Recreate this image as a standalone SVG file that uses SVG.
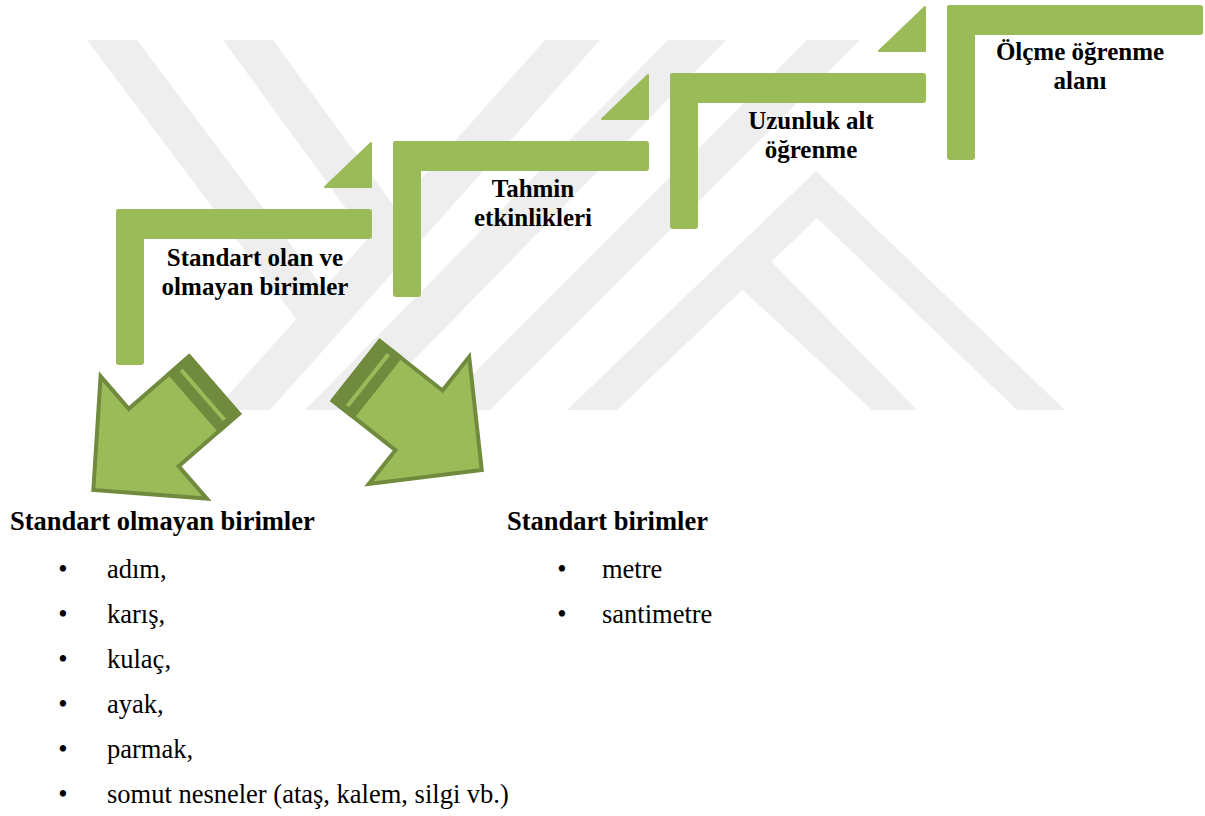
<svg xmlns="http://www.w3.org/2000/svg" width="1205" height="816" viewBox="0 0 1205 816">
<defs>
<style>
.wm{fill:#eeeeee}
.step{fill:#9bbb59}
.tri{fill:#9bbb59;stroke:#9bbb59;stroke-width:2;stroke-linejoin:round}
.lbl{font-family:"Liberation Serif","Times New Roman",serif;font-weight:bold;font-size:25px;fill:#000;text-anchor:middle}
.hd{font-family:"Liberation Serif","Times New Roman",serif;font-weight:bold;font-size:26.5px;fill:#000}
.tx{font-family:"Liberation Serif","Times New Roman",serif;font-size:26.5px;fill:#000}
.bul{font-family:"Liberation Serif","Times New Roman",serif;font-size:26.5px;fill:#000;text-anchor:middle}
.arr{fill:#9bbb59;stroke:#718b3e;stroke-width:4;stroke-linejoin:miter}
.band{fill:#718b3e}
.stripe{fill:#9bbb59}
</style>
<g id="blockArrow">
<path class="arr" d="M0,-38 L80,-38 L80,-81 L160,0 L80,81 L80,38 L0,38 Z"/>
<rect class="band" x="-2" y="-40" width="30" height="80"/>
<rect class="stripe" x="13" y="-33" width="4" height="66"/>
</g>
</defs>
<rect width="1205" height="816" fill="#ffffff"/>
<g id="watermark" class="wm">
<polygon points="87,40 137,40 336,305 309,336"/>
<polygon points="223,40 273,40 407,224 380,255"/>
<polygon points="545,40 600,40 270,410 215,410"/>
<polygon points="668,40 726,40 365,410 305,410"/>
<polygon points="807,40 860,40 490,410 437,410"/>
<polygon points="567,410 816,171 1065,410 1017,410 817,218 617,410"/>
<polygon points="760,250 917,410 872,410 731,279"/>
</g>
<g id="step1">
<rect class="step" x="116" y="209" width="256" height="30" rx="3"/>
<rect class="step" x="116" y="209" width="28" height="156" rx="3"/>
<polygon class="tri" points="325,187 371,143 371,187"/>
<text class="lbl"><tspan x="255" y="266">Standart olan ve</tspan><tspan x="255" y="295">olmayan birimler</tspan></text>
</g>
<g id="step2">
<rect class="step" x="393" y="141" width="256" height="30" rx="3"/>
<rect class="step" x="393" y="141" width="28" height="156" rx="3"/>
<polygon class="tri" points="602,119 648,75 648,119"/>
<text class="lbl"><tspan x="533" y="197">Tahmin</tspan><tspan x="533" y="226">etkinlikleri</tspan></text>
</g>
<g id="step3">
<rect class="step" x="670" y="73" width="256" height="30" rx="3"/>
<rect class="step" x="670" y="73" width="28" height="156" rx="3"/>
<polygon class="tri" points="879,51 925,7 925,51"/>
<text class="lbl"><tspan x="811" y="129">Uzunluk alt</tspan><tspan x="811" y="158">öğrenme</tspan></text>
</g>
<g id="step4">
<rect class="step" x="947" y="5" width="256" height="30" rx="3"/>
<rect class="step" x="947" y="5" width="28" height="155" rx="3"/>
<text class="lbl"><tspan x="1080" y="60">Ölçme öğrenme</tspan><tspan x="1080" y="89">alanı</tspan></text>
</g>
<g id="connectors">
<use href="#blockArrow" transform="translate(214.1,385) rotate(139)"/>
<use href="#blockArrow" transform="translate(356.2,370.8) rotate(38.3)"/>
</g>
<g id="list-nonstandard">
<text class="hd" x="10" y="530">Standart olmayan birimler</text>
<text class="bul" x="63" y="578">•</text><text class="tx" x="107" y="578">adım,</text>
<text class="bul" x="63" y="623">•</text><text class="tx" x="107" y="623">karış,</text>
<text class="bul" x="63" y="668">•</text><text class="tx" x="107" y="668">kulaç,</text>
<text class="bul" x="63" y="713">•</text><text class="tx" x="107" y="713">ayak,</text>
<text class="bul" x="63" y="758">•</text><text class="tx" x="107" y="758">parmak,</text>
<text class="bul" x="63" y="803">•</text><text class="tx" x="107" y="803">somut nesneler (ataş, kalem, silgi vb.)</text>
</g>
<g id="list-standard">
<text class="hd" x="507" y="530">Standart birimler</text>
<text class="bul" x="562" y="578">•</text><text class="tx" x="602" y="578">metre</text>
<text class="bul" x="562" y="623">•</text><text class="tx" x="602" y="623">santimetre</text>
</g>
</svg>
